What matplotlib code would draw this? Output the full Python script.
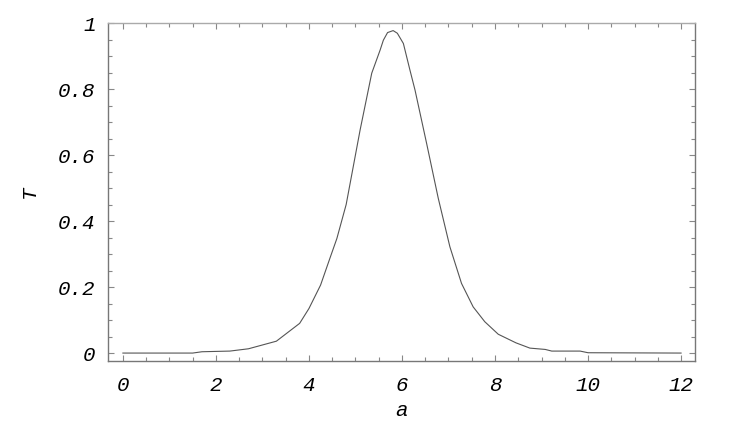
import numpy as np
import matplotlib
matplotlib.use("Agg")
import matplotlib.pyplot as plt
from matplotlib.ticker import MultipleLocator

# values
a_vals = [0, 1.5, 1.7, 2.3, 2.7, 3.3, 3.8, 4.0, 4.25, 4.45, 4.6, 4.8, 5.1, 5.35,
          5.53, 5.6, 5.69, 5.81, 5.9, 6.03, 6.17, 6.28, 6.53, 6.78, 7.03, 7.28,
          7.53, 7.78, 8.07, 8.45, 8.75, 9.08, 9.22, 9.83, 10.0, 12]
T_vals = [0, 0, 0.004, 0.006, 0.013, 0.036, 0.09, 0.135, 0.206, 0.287, 0.347,
          0.45, 0.676, 0.848, 0.918, 0.948, 0.971, 0.977, 0.969, 0.938, 0.858,
          0.797, 0.635, 0.469, 0.322, 0.211, 0.14, 0.095, 0.057, 0.031, 0.015,
          0.011, 0.006, 0.006, 0.001, 0]

x_ticks = [0, 2, 4, 6, 8, 10, 12]
y_ticks = [0, 0.2, 0.4, 0.6, 0.8, 1]
y_labels = ["0", "0.2", "0.4", "0.6", "0.8", "1"]

font = {"family": "Liberation Mono", "style": "italic", "size": 15}

fig = plt.figure(figsize=(7.47, 4.30), dpi=100)
ax = fig.add_axes([0.1446, 0.1605, 0.7858, 0.786])

ax.plot(a_vals, T_vals, color="#555555", lw=0.8)

ax.set_xlim(-0.32, 12.3)
ax.set_ylim(-0.024, 1.0)

ax.set_xticks(x_ticks)
ax.set_xticklabels([str(t) for t in x_ticks], fontdict=font)
ax.set_yticks(y_ticks)
ax.set_yticklabels(y_labels, fontdict=font)
ax.xaxis.set_minor_locator(MultipleLocator(0.5))
ax.yaxis.set_minor_locator(MultipleLocator(0.05))

ax.tick_params(which="both", direction="in", top=True, right=True,
               color="#888888", width=0.8)
ax.tick_params(which="major", length=4)
ax.tick_params(which="minor", length=3)
ax.tick_params(axis="x", which="major", pad=11)
ax.tick_params(axis="y", which="major", pad=9)

for s in ax.spines.values():
    s.set_color("#777777")
    s.set_linewidth(1.0)
ax.spines["top"].set_color("#aaaaaa")

ax.set_xlabel("a", fontdict=font, labelpad=4)
ax.set_ylabel("T", fontdict=font, labelpad=14)

fig.savefig("out.png", dpi=100)
